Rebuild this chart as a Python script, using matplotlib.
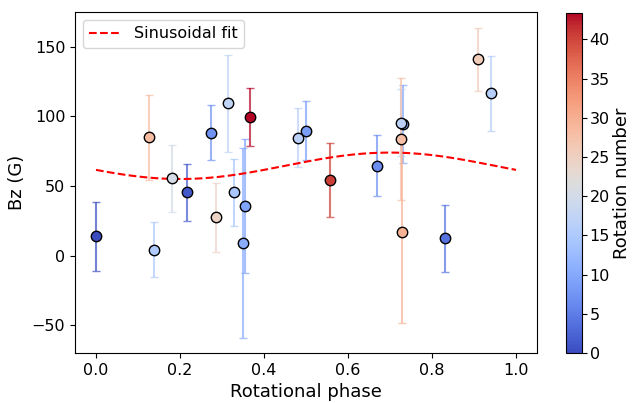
import matplotlib
matplotlib.use("Agg")
import matplotlib.pyplot as plt
import numpy as np

# Observations (phase, Bz, error, rotation number)
phase = [0.000, 0.125, 0.138, 0.182, 0.216, 0.274, 0.315, 0.366, 0.286, 0.329, 0.355, 0.349,
         0.482, 0.499, 0.556, 0.670, 0.725, 0.732, 0.725, 0.728, 0.832, 0.910, 0.941]
bz = [13.8, 85.0, 4.3, 55.4, 45.4, 88.4, 109.4, 99.4, 27.5, 45.4, 35.4, 9.1,
      84.8, 89.8, 54.2, 64.5, 95.6, 94.4, 83.6, 17.2, 12.4, 141.0, 116.6]
bz_err = [25.0, 30.5, 20.0, 24.0, 20.7, 20.0, 35.0, 21.0, 24.7, 23.8, 48.0, 68.0,
          21.0, 21.4, 26.4, 22.0, 24.0, 28.0, 44.0, 66.0, 24.0, 22.5, 27.0]
rotation = [0.000, 28.125, 15.138, 20.182, 1.216, 7.274, 17.315, 43.366, 24.286, 14.329, 9.355, 10.349,
            16.482, 8.499, 40.556, 6.670, 16.725, 9.732, 27.725, 29.728, 3.832, 25.910, 15.941]

# sinusoidal fit parameters: mean, amplitude, phase of maximum
fit_mean = 64.5
fit_amp = 9.5
fit_phase0 = 0.70

cmap = plt.cm.coolwarm
norm = matplotlib.colors.Normalize(vmin=0, vmax=max(rotation))

fig = plt.figure(figsize=(6.34, 4.03), dpi=100)
ax = fig.add_axes([75 / 634, 1 - 353 / 403, 462 / 634, 341 / 403])
cax = fig.add_axes([566 / 634, 1 - 353 / 403, 16 / 634, 340 / 403])

order = np.argsort(rotation)
for i in order:
    c = cmap(norm(rotation[i]))
    ax.errorbar(phase[i], bz[i], yerr=bz_err[i], fmt='o', color=c,
                ecolor=(c[0], c[1], c[2], 0.7), elinewidth=1.5, capsize=3,
                markersize=7.5, markeredgecolor='black', markeredgewidth=1)

ph = np.linspace(0, 1, 200)
ax.plot(ph, fit_mean + fit_amp * np.cos(2 * np.pi * (ph - fit_phase0)), 'r--',
        linewidth=1.5, label='Sinusoidal fit')

ax.set_xlim(-0.05, 1.05)
ax.set_ylim(-70, 175)
ax.set_xlabel("Rotational phase", fontsize=13)
ax.set_ylabel("Bz (G)", fontsize=13)
ax.tick_params(labelsize=11.5)
ax.legend(loc='upper left', fontsize=11.5)

sm = plt.cm.ScalarMappable(cmap=cmap, norm=norm)
cb = fig.colorbar(sm, cax=cax)
cb.set_label("Rotation number", fontsize=13, labelpad=2)
cb.ax.tick_params(labelsize=11.5, pad=2)

fig.savefig("out.png", dpi=100)
